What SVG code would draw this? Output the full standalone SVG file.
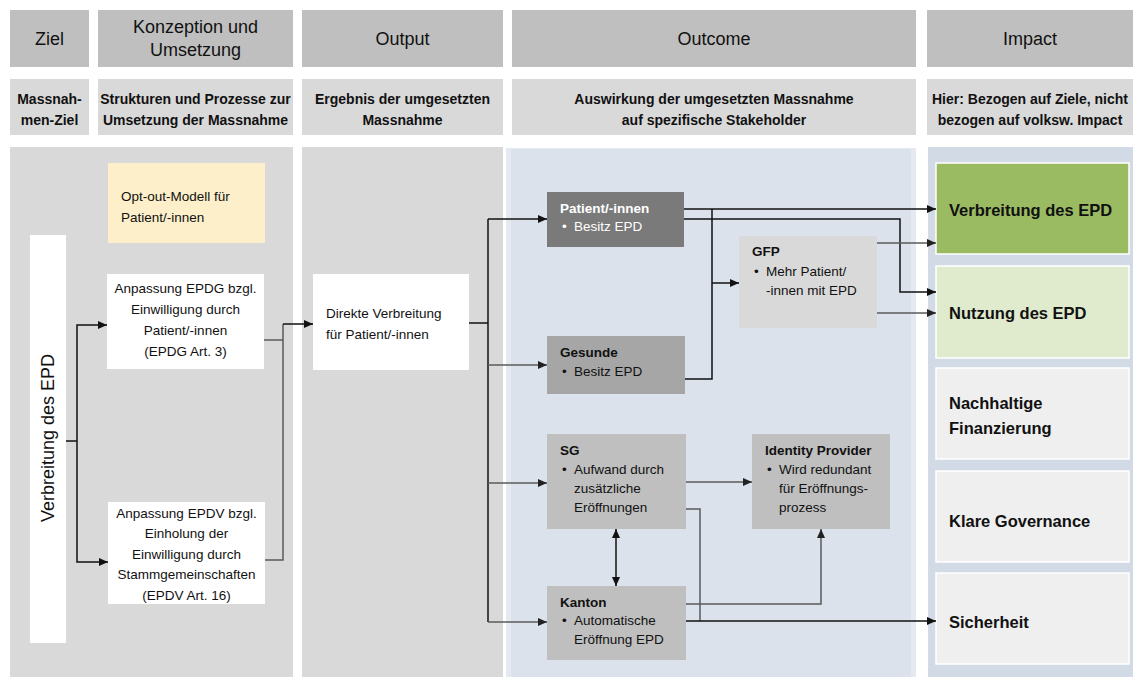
<svg xmlns="http://www.w3.org/2000/svg" width="1133" height="677" viewBox="0 0 1133 677">
  <style>
    text { font-family: "Liberation Sans", Arial, sans-serif; fill: #111; }
    .h1 { font-size: 18px; text-anchor: middle; }
    .h2 { font-size: 14px; font-weight: bold; text-anchor: middle; }
    .hd1 { fill: #bfbfbf; }
    .hd2 { fill: #d9d9d9; }
    .panel { fill: #d9d9d9; }
    .white { fill: #ffffff; }
    .t { font-size: 13.5px; }
    .tc { font-size: 13.5px; text-anchor: middle; }
    .nt { font-size: 13.5px; font-weight: bold; }
    .nb { font-size: 13.5px; }
    .inv { fill: #ffffff; }
    .imp { font-size: 16.5px; font-weight: bold; }
    .impbox { stroke: #ffffff; stroke-width: 1.5; }
    .ln { fill: none; stroke: #111; stroke-width: 1.5; }
    .lg { fill: none; stroke: #5a5a5a; stroke-width: 1.5; }
    .ab { marker-end: url(#arrB); }
    .ag { marker-end: url(#arrG); }
  </style>
  <defs>
    <marker id="arrB" viewBox="0 0 9 8" refX="9" refY="4" markerWidth="9" markerHeight="8" markerUnits="userSpaceOnUse" orient="auto-start-reverse">
      <path d="M0,0 L9,4 L0,8 z" fill="#111"/>
    </marker>
    <marker id="arrG" viewBox="0 0 9 8" refX="9" refY="4" markerWidth="9" markerHeight="8" markerUnits="userSpaceOnUse" orient="auto-start-reverse">
      <path d="M0,0 L9,4 L0,8 z" fill="#222"/>
    </marker>
  </defs>

  <rect width="1133" height="677" fill="#ffffff"/>

  <!-- column headers -->
  <g id="headers">
    <rect class="hd1" x="10" y="10" width="79" height="57"/>
    <rect class="hd1" x="98" y="10" width="195" height="57"/>
    <rect class="hd1" x="302" y="10" width="201" height="57"/>
    <rect class="hd1" x="512" y="10" width="404" height="57"/>
    <rect class="hd1" x="927" y="10" width="206" height="57"/>
    <text class="h1" x="49.5" y="45">Ziel</text>
    <text class="h1" x="195.5" y="33">Konzeption und</text>
    <text class="h1" x="195.5" y="56">Umsetzung</text>
    <text class="h1" x="402.5" y="45">Output</text>
    <text class="h1" x="714" y="45">Outcome</text>
    <text class="h1" x="1030" y="45">Impact</text>

    <rect class="hd2" x="10" y="79" width="79" height="56"/>
    <rect class="hd2" x="98" y="79" width="195" height="56"/>
    <rect class="hd2" x="302" y="79" width="201" height="56"/>
    <rect class="hd2" x="512" y="79" width="404" height="56"/>
    <rect class="hd2" x="927" y="79" width="206" height="56"/>
    <text class="h2" x="49.5" y="104">Massnah-</text>
    <text class="h2" x="49.5" y="125">men-Ziel</text>
    <text class="h2" x="195.5" y="104">Strukturen und Prozesse zur</text>
    <text class="h2" x="195.5" y="125">Umsetzung der Massnahme</text>
    <text class="h2" x="402.5" y="104">Ergebnis der umgesetzten</text>
    <text class="h2" x="402.5" y="125">Massnahme</text>
    <text class="h2" x="714" y="104">Auswirkung der umgesetzten Massnahme</text>
    <text class="h2" x="714" y="125">auf spezifische Stakeholder</text>
    <text class="h2" x="1030" y="104">Hier: Bezogen auf Ziele, nicht</text>
    <text class="h2" x="1030" y="125">bezogen auf volksw. Impact</text>
  </g>

  <!-- column panels -->
  <g id="panels">
    <rect class="panel" x="10" y="147" width="283" height="530"/>
    <rect class="panel" x="302" y="147" width="201" height="530"/>
    <rect x="506" y="148" width="410" height="529" fill="#e5e9f0"/>
    <rect x="511" y="149" width="400" height="528" fill="#dce2ec"/>
    <rect x="928" y="147" width="205" height="530" fill="#d2dae6"/>
  </g>

  <!-- goal -->
  <g id="ziel">
    <rect class="white" x="30" y="235" width="36" height="408"/>
    <text font-size="18" text-anchor="middle" transform="translate(54 438) rotate(-90)">Verbreitung des EPD</text>
  </g>

  <!-- implementation -->
  <g id="optout">
    <rect x="108" y="163" width="157" height="80" fill="#fcefc9"/>
    <text class="t" x="121" y="201">Opt-out-Modell für</text>
    <text class="t" x="121" y="222">Patient/-innen</text>
  </g>
  <g id="epdg">
    <rect class="white" x="107" y="274" width="157" height="95"/>
    <text class="tc" x="185.5" y="293">Anpassung EPDG bzgl.</text>
    <text class="tc" x="185.5" y="314">Einwilligung durch</text>
    <text class="tc" x="185.5" y="335">Patient/-innen</text>
    <text class="tc" x="185.5" y="356">(EPDG Art. 3)</text>
  </g>
  <g id="epdv">
    <rect class="white" x="108" y="502" width="157" height="102"/>
    <text class="tc" x="186.5" y="518">Anpassung EPDV bzgl.</text>
    <text class="tc" x="186.5" y="538">Einholung der</text>
    <text class="tc" x="186.5" y="559">Einwilligung durch</text>
    <text class="tc" x="186.5" y="579">Stammgemeinschaften</text>
    <text class="tc" x="186.5" y="600">(EPDV Art. 16)</text>
  </g>

  <!-- output -->
  <g id="direkt">
    <rect class="white" x="313" y="274" width="156" height="96"/>
    <text class="t" x="326" y="318">Direkte Verbreitung</text>
    <text class="t" x="326" y="339">für Patient/-innen</text>
  </g>

  <!-- outcome -->
  <g id="patient">
    <rect x="547" y="192" width="137" height="55" fill="#7a7a7a"/>
    <text class="nt inv" x="560" y="213">Patient/-innen</text>
    <text class="nb inv" x="562" y="231">•</text>
    <text class="nb inv" x="574" y="231">Besitz EPD</text>
  </g>
  <g id="gesunde">
    <rect x="547" y="336" width="138" height="58" fill="#a6a6a6"/>
    <text class="nt" x="560" y="357">Gesunde</text>
    <text class="nb" x="562" y="376">•</text>
    <text class="nb" x="574" y="376">Besitz EPD</text>
  </g>
  <g id="gfp">
    <rect x="739" y="236" width="138" height="92" fill="#d9d9d9"/>
    <text class="nt" x="752" y="256">GFP</text>
    <text class="nb" x="754" y="276">•</text>
    <text class="nb" x="766" y="276">Mehr Patient/</text>
    <text class="nb" x="766" y="295">-innen mit EPD</text>
  </g>
  <g id="sg">
    <rect x="547" y="434" width="139" height="95" fill="#bfbfbf"/>
    <text class="nt" x="560" y="455">SG</text>
    <text class="nb" x="562" y="474">•</text>
    <text class="nb" x="574" y="474">Aufwand durch</text>
    <text class="nb" x="574" y="493">zusätzliche</text>
    <text class="nb" x="574" y="512">Eröffnungen</text>
  </g>
  <g id="idp">
    <rect x="752" y="434" width="138" height="95" fill="#bfbfbf"/>
    <text class="nt" x="765" y="455">Identity Provider</text>
    <text class="nb" x="767" y="474">•</text>
    <text class="nb" x="779" y="474">Wird redundant</text>
    <text class="nb" x="779" y="493">für Eröffnungs-</text>
    <text class="nb" x="779" y="512">prozess</text>
  </g>
  <g id="kanton">
    <rect x="547" y="586" width="139" height="74" fill="#bfbfbf"/>
    <text class="nt" x="560" y="607">Kanton</text>
    <text class="nb" x="562" y="625">•</text>
    <text class="nb" x="574" y="625">Automatische</text>
    <text class="nb" x="574" y="644">Eröffnung EPD</text>
  </g>

  <!-- impact -->
  <g id="imp-verbreitung">
    <rect class="impbox" x="936" y="163" width="193" height="91" fill="#9bbb63"/>
    <text class="imp" x="949" y="216">Verbreitung des EPD</text>
  </g>
  <g id="imp-nutzung">
    <rect class="impbox" x="936" y="266" width="193" height="92" fill="#e0eacd"/>
    <text class="imp" x="949" y="319">Nutzung des EPD</text>
  </g>
  <g id="imp-finanzierung">
    <rect class="impbox" x="936" y="368" width="193" height="91" fill="#efefef"/>
    <text class="imp" x="949" y="409">Nachhaltige</text>
    <text class="imp" x="949" y="434">Finanzierung</text>
  </g>
  <g id="imp-governance">
    <rect class="impbox" x="936" y="471" width="193" height="91" fill="#efefef"/>
    <text class="imp" x="949" y="527">Klare Governance</text>
  </g>
  <g id="imp-sicherheit">
    <rect class="impbox" x="936" y="573" width="193" height="91" fill="#efefef"/>
    <text class="imp" x="949" y="628">Sicherheit</text>
  </g>

  <!-- connectors -->
  <g id="connectors">
    <path class="ln" d="M66,441 H77"/>
    <path class="ln ab" d="M77,441 V325 H107"/>
    <path class="ln ab" d="M77,441 V562 H108"/>
    <path class="lg" d="M264,340 H283"/>
    <path class="lg" d="M265,560 H283 V324"/>
    <path class="ln ab" d="M283,324 H313"/>

    <path class="ln" d="M469,323 H488"/>
    <path class="ln" d="M488,219 V622"/>
    <path class="ln ab" d="M488,219 H547"/>
    <path class="lg ag" d="M488,365 H547"/>
    <path class="lg ag" d="M488,483 H547"/>
    <path class="lg ag" d="M488,622 H547"/>

    <path class="ln ab" d="M684,209 H936"/>
    <path class="ln ab" d="M684,219 H900 V292 H936"/>
    <path class="ln" d="M712,209 V379 H685"/>
    <path class="ln ab" d="M712,283 H739"/>
    <path class="lg ag" d="M877,243 H936"/>
    <path class="lg ag" d="M877,313 H936"/>

    <path class="lg ag" d="M686,482 H752"/>
    <path class="lg" d="M686,509 H700 V621"/>
    <path class="lg ag" d="M686,604 H821 V529"/>
    <path class="ln ab" d="M686,621 H936"/>
    <path class="ln ab" d="M616,529 V586" marker-start="url(#arrB)"/>
  </g>
</svg>
